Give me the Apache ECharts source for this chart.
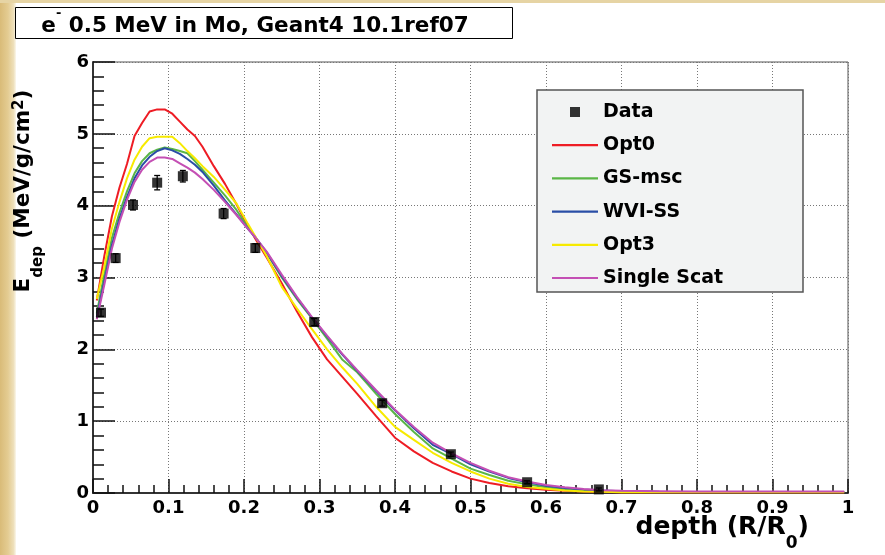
<!DOCTYPE html>
<html>
<head>
<meta charset="utf-8">
<script src="https://cdn.jsdelivr.net/npm/echarts@6/dist/echarts.min.js"></script>
<style>
html,body{margin:0;padding:0;background:#fff;}
#c{width:885px;height:555px;}
</style>
</head>
<body>
<div id="c"></div>
<script>
// depth sample points (R/R0)
const xs = [0.005,0.015,0.025,0.035,0.045,0.055,0.065,0.075,0.085,0.095,0.105,0.115,0.125,0.135,0.145,0.16,0.175,0.19,0.205,0.215,0.23,0.25,0.27,0.29,0.31,0.33,0.35,0.375,0.4,0.425,0.45,0.475,0.5,0.525,0.55,0.575,0.6,0.625,0.65,0.675,0.7,0.75,0.8,0.85,0.9,0.95,0.995];
const opt0 = [2.68,3.30,3.85,4.25,4.58,4.97,5.15,5.31,5.34,5.34,5.28,5.17,5.06,4.97,4.82,4.55,4.30,4.02,3.72,3.54,3.28,2.92,2.53,2.17,1.86,1.62,1.38,1.07,0.77,0.58,0.42,0.30,0.20,0.14,0.095,0.065,0.045,0.03,0.02,0.015,0.012,0.01,0.01,0.01,0.01,0.01,0.01];
const gsmsc = [2.50,3.05,3.55,3.90,4.20,4.45,4.62,4.73,4.78,4.81,4.79,4.76,4.73,4.62,4.50,4.32,4.14,3.94,3.70,3.56,3.34,3.00,2.70,2.43,2.15,1.86,1.68,1.38,1.10,0.85,0.62,0.48,0.34,0.25,0.17,0.12,0.08,0.05,0.035,0.025,0.02,0.015,0.015,0.015,0.015,0.015,0.015];
const wviss = [2.45,2.95,3.45,3.82,4.12,4.38,4.56,4.68,4.76,4.80,4.77,4.72,4.65,4.57,4.47,4.28,4.07,3.88,3.68,3.56,3.35,3.02,2.72,2.44,2.18,1.93,1.70,1.42,1.15,0.90,0.67,0.54,0.40,0.30,0.21,0.15,0.10,0.07,0.05,0.035,0.025,0.018,0.015,0.015,0.015,0.015,0.015];
const opt3 = [2.70,3.15,3.68,4.05,4.38,4.64,4.82,4.94,4.96,4.96,4.96,4.87,4.76,4.66,4.55,4.40,4.22,4.03,3.75,3.57,3.30,2.87,2.57,2.28,2.00,1.75,1.52,1.20,0.92,0.74,0.56,0.42,0.30,0.20,0.13,0.085,0.06,0.035,0.022,0.016,0.012,0.01,0.012,0.01,0.012,0.01,0.01];
const single = [2.42,2.90,3.40,3.77,4.08,4.33,4.50,4.61,4.67,4.67,4.65,4.59,4.53,4.46,4.37,4.22,4.05,3.87,3.68,3.56,3.36,3.04,2.73,2.45,2.19,1.94,1.71,1.43,1.16,0.92,0.70,0.55,0.42,0.31,0.22,0.16,0.11,0.08,0.055,0.04,0.03,0.025,0.02,0.02,0.02,0.02,0.02];
// measured data
const dataX = [0.0106,0.030,0.053,0.085,0.119,0.173,0.215,0.293,0.383,0.474,0.575,0.670];
const dataY = [2.51,3.27,4.01,4.32,4.41,3.89,3.41,2.38,1.25,0.54,0.15,0.05];
const dataErr = [0.05,0.06,0.07,0.10,0.08,0.07,0.06,0.05,0.04,0.03,0.02,0.02];
const xTickLabels = ['0','0.1','0.2','0.3','0.4','0.5','0.6','0.7','0.8','0.9','1'];

const names = ['Opt0','GS-msc','WVI-SS','Opt3','Single Scat'];
const colors = ['#ee1c24','#5ab646','#2a4ea6','#f7ea00','#c44fb4'];
const ys = [opt0, gsmsc, wviss, opt3, single];

const FONT = '"DejaVu Sans", sans-serif';
const chart = echarts.init(document.getElementById('c'), null, {renderer:'canvas'});

const lineSeries = names.map((n,k)=>({
  name:n, type:'line', symbol:'none', showSymbol:false, smooth:false,
  data: xs.map((x,i)=>[x, ys[k][i]]),
  lineStyle:{color:colors[k], width:2}, itemStyle:{color:colors[k]}, z:2
}));

const LINE_ICON = 'path://M0,0 L46,0 L46,2.2 L0,2.2 Z';
const SQ_ICON = 'path://M0,0 L10,0 L10,10 L0,10 Z';

const option = {
  animation:false,
  backgroundColor:'#ffffff',
  grid:{left:93, right:37, top:62, bottom:62, show:true, borderColor:'#555', borderWidth:1},
  xAxis:{
    type:'value', min:0, max:1, interval:0.1,
    axisLine:{show:true, lineStyle:{color:'#333', width:2}},
    axisTick:{show:true, inside:true, length:14, lineStyle:{color:'#111', width:1.5}},
    minorTick:{show:true, splitNumber:5, length:8, lineStyle:{color:'#111', width:1.5}},
    splitLine:{show:true, lineStyle:{color:'#777', type:[1,2], width:1}},
    axisLabel:{margin:6, color:'#000', fontFamily:FONT, fontWeight:'bold', fontSize:18,
      formatter:(v)=>xTickLabels[Math.round(v*10)]}
  },
  yAxis:{
    type:'value', min:0, max:6, interval:1,
    axisLine:{show:true, lineStyle:{color:'#333', width:2}},
    axisTick:{show:true, inside:true, length:22, lineStyle:{color:'#111', width:1.5}},
    minorTick:{show:true, splitNumber:5, length:11, lineStyle:{color:'#111', width:1.5}},
    splitLine:{show:true, lineStyle:{color:'#777', type:[1,2], width:1}},
    axisLabel:{margin:4, color:'#000', fontFamily:FONT, fontWeight:'bold', fontSize:18}
  },
  legend:{
    orient:'vertical', left:547, top:97, itemWidth:46, itemHeight:10, itemGap:13.2,
    symbolKeepAspect:true,
    data:[{name:'Data', icon:SQ_ICON}].concat(names.map(n=>({name:n, icon:LINE_ICON}))),
    textStyle:{fontFamily:FONT, fontWeight:'bold', fontSize:19, color:'#000', lineHeight:20},
    z:5
  },
  graphic:[
    {type:'rect', shape:{x:0,y:0,width:16,height:555}, silent:true, z:-10,
      style:{fill:new echarts.graphic.LinearGradient(0,0,1,0,[{offset:0,color:'#d9bb78'},{offset:0.5,color:'#e4cc92'},{offset:0.85,color:'#eee0bb'},{offset:1,color:'#fbf7ec'}])}},
    {type:'rect', shape:{x:0,y:0,width:885,height:3}, silent:true, z:-10, style:{fill:'#e6d4a4'}},
    {type:'rect', shape:{x:15.5,y:7.5,width:497,height:31}, z:10, style:{fill:'#fff', stroke:'#000', lineWidth:1}},
    {type:'text', x:255, y:22, z:11,
      style:{text:'{b|e}{s|-}{b| 0.5 MeV in Mo, Geant4 10.1ref07}', align:'center', verticalAlign:'middle',
        rich:{b:{fontFamily:FONT, fontWeight:'bold', fontSize:21.5, lineHeight:30, verticalAlign:'bottom', color:'#000'},
              s:{fontFamily:FONT, fontWeight:'bold', fontSize:13, lineHeight:24, verticalAlign:'top', color:'#000'}}}},
    {type:'rect', shape:{x:537,y:90,width:266,height:202}, z:3, style:{fill:'#f2f3f3', stroke:'#555', lineWidth:1.5}},
    {type:'text', x:38, y:191, rotation:Math.PI/2, z:10,
      style:{text:'{m|E}{d|dep}{m| (MeV/g/cm}{u|2}{m|)}', align:'center', verticalAlign:'middle',
        rich:{m:{fontFamily:FONT, fontWeight:'bold', fontSize:21.5, lineHeight:36, verticalAlign:'top', color:'#000'},
              d:{fontFamily:FONT, fontWeight:'bold', fontSize:15, lineHeight:52, color:'#000'},
              u:{fontFamily:FONT, fontWeight:'bold', fontSize:15, lineHeight:20, verticalAlign:'top', color:'#000'}}}},
    {type:'text', x:809, y:544, z:10,
      style:{text:'{m|depth (R/R}{d|0}{m|)}', align:'right', verticalAlign:'middle',
        rich:{m:{fontFamily:FONT, fontWeight:'bold', fontSize:25, lineHeight:36, verticalAlign:'top', color:'#000'},
              d:{fontFamily:FONT, fontWeight:'bold', fontSize:17, lineHeight:58, color:'#000'}}}}
  ],
  series: lineSeries.concat([
    {name:'Data', type:'scatter', symbol:'rect', symbolSize:10, itemStyle:{color:'#000'},
      data: dataX.map((x,i)=>[x, dataY[i]]), z:6},
    {name:'Data', type:'custom', z:6,
      data: dataX.map((x,i)=>[x, dataY[i], dataErr[i]]),
      renderItem:(params, api)=>{
        const x=api.value(0), y=api.value(1), e=api.value(2);
        const t=api.coord([x,y+e]), b=api.coord([x,y-e]);
        const st={stroke:'#000', lineWidth:1.3};
        return {type:'group', children:[
          {type:'line', shape:{x1:t[0],y1:t[1],x2:b[0],y2:b[1]}, style:st},
          {type:'line', shape:{x1:t[0]-3,y1:t[1],x2:t[0]+3,y2:t[1]}, style:st},
          {type:'line', shape:{x1:b[0]-3,y1:b[1],x2:b[0]+3,y2:b[1]}, style:st}
        ]};
      }}
  ])
};
chart.setOption(option);
</script>
</body>
</html>
